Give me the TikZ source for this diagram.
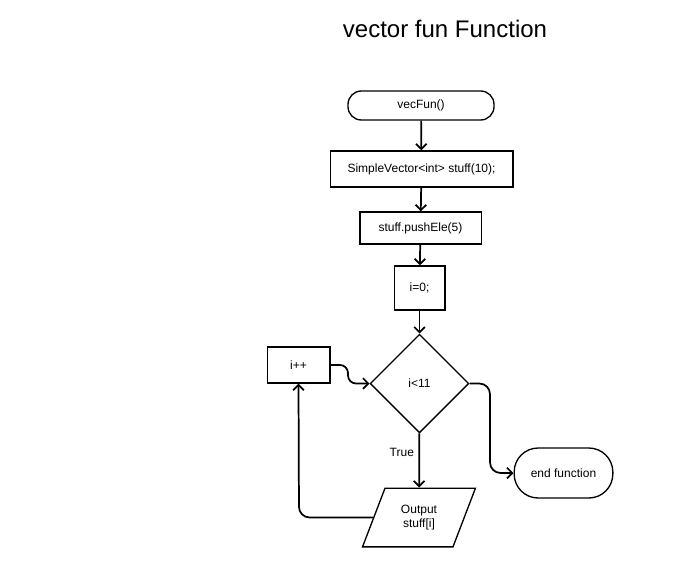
\documentclass[tikz,border=0pt]{standalone}
\usepackage{fontspec}
\setmainfont{Liberation Sans}
\usetikzlibrary{shapes.geometric,arrows.meta}
\begin{document}
\begin{tikzpicture}[x=0.75pt,y=-0.75pt,
    flowBox/.style={draw,line width=1pt,inner sep=0pt,font=\fontsize{9}{11}\selectfont,align=center},
    flowTerm/.style={flowBox,rounded corners=#1},
    flowDec/.style={flowBox,diamond,minimum width=74pt,minimum height=74pt},
    flowIO/.style={flowBox,trapezium,trapezium left angle=65,trapezium right angle=115,trapezium stretches=true},
    flowArr/.style={-{Straight Barb[length=4pt,width=8pt]},line width=1.3pt},
]
\useasboundingbox (0,0) rectangle (679,568);
% Title
\node[font=\fontsize{18}{21}\selectfont] (title) at (445,29) {vector fun Function};
% Boxes
\node[flowTerm=10pt,minimum width=109.5pt,minimum height=21.75pt] (start) at (421,105.5) {vecFun()};
\node[flowBox,minimum width=137pt,minimum height=27pt] (decl) at (421.5,169) {SimpleVector<int> stuff(10);};
\node[flowBox,minimum width=91pt,minimum height=24pt] (push) at (420.5,228) {stuff.pushEle(5)};
\node[flowBox,minimum width=38pt,minimum height=33pt] (init) at (419.5,288) {i=0;};
\node[flowDec] (cond) at (419.5,383.5) {i<11};
\node[flowBox,minimum width=47pt,minimum height=27pt] (incr) at (298.5,365) {i++};
\node[flowTerm=18pt,minimum width=74pt,minimum height=37.5pt] (finish) at (563.5,473) {end function};
\node[flowIO,minimum width=85pt,minimum height=44pt] (out) at (419,517.5) {Output\\stuff[i]};
% Arrows
\draw[flowArr] (start) -- (decl);
\draw[flowArr] (decl) -- (push);
\draw[flowArr] (push) -- (init);
\draw[flowArr] (init) -- (cond);
\draw[flowArr] (cond) -- node[pos=0.35,left,font=\fontsize{9}{11}\selectfont] (true) {True} (out);
\draw[flowArr,rounded corners=8pt] (cond.east) -- (490,383.5) -- (490,473) -- (finish.west);
\draw[flowArr,rounded corners=8pt] (out.west) -- (299,517.5) -- (incr.south);
\draw[flowArr,rounded corners=6pt] (incr.east) -- (348,365) -- (348,383.5) -- (cond.west);
\end{tikzpicture}
\end{document}
